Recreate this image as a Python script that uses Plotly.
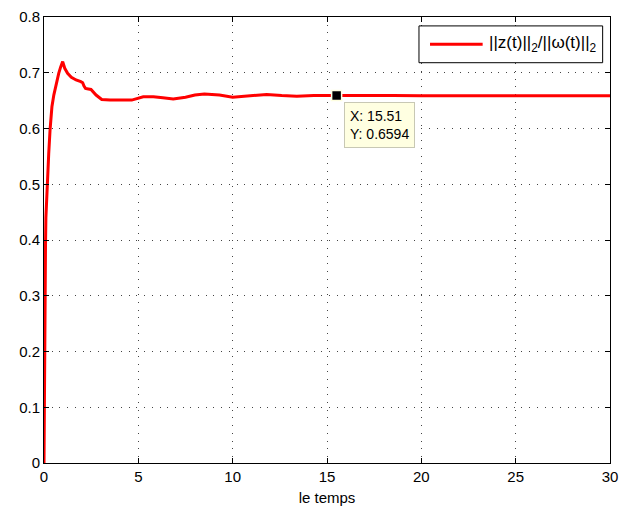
import plotly.graph_objects as go

# Ratio ||z(t)||_2 / ||w(t)||_2 over time
t = [0, 0.01, 0.02, 0.04, 0.06, 0.08, 0.1, 0.14, 0.19, 0.25, 0.32, 0.42, 0.52, 0.64, 0.78, 0.88, 0.99,
     1.1, 1.25, 1.45, 1.7, 1.95, 2.05, 2.12, 2.2, 2.35, 2.49, 2.76, 3.06, 3.5, 4.0, 4.65,
     5.26, 5.8, 6.3, 6.85, 7.5, 8.0, 8.5, 9.3, 10.0, 10.8, 11.8, 12.6, 13.4, 14.3,
     15.51, 16.5, 17.5, 18.5, 20.0, 22.0, 25.0, 27.5, 30.0]
ratio = [0, 0.08, 0.15, 0.25, 0.33, 0.39, 0.44, 0.48, 0.508, 0.555, 0.597, 0.639, 0.66, 0.681, 0.699, 0.71, 0.72,
         0.708, 0.699, 0.692, 0.687, 0.684, 0.682, 0.676, 0.672, 0.671, 0.670, 0.660, 0.652, 0.651, 0.651, 0.651,
         0.657, 0.657, 0.655, 0.653, 0.656, 0.660, 0.662, 0.660, 0.656, 0.658, 0.661, 0.659, 0.658, 0.659,
         0.6594, 0.659, 0.6592, 0.6594, 0.6586, 0.6588, 0.6589, 0.6587, 0.6588]

tip_x, tip_y = 15.51, 0.6594

x_ticks = [0, 5, 10, 15, 20, 25, 30]
y_ticks = [0, 0.1, 0.2, 0.3, 0.4, 0.5, 0.6, 0.7, 0.8]

FONT = "Liberation Sans, Arial, sans-serif"
LINE_COLOR = "#FF0000"
legend_label = "||z(t)||<sub>2</sub>/||\u03c9(t)||<sub>2</sub>"

fig = go.Figure()
fig.add_trace(go.Scatter(
    x=t, y=ratio, mode="lines",
    line=dict(color=LINE_COLOR, width=3),
    name=legend_label, showlegend=False,
))
fig.add_trace(go.Scatter(
    x=[tip_x], y=[tip_y], mode="markers",
    marker=dict(symbol="square", size=10, color="black",
                line=dict(color="#FFFFE1", width=1.5)),
    showlegend=False, hoverinfo="skip",
))
# data tip box
fig.add_annotation(
    x=tip_x, y=tip_y, xref="x", yref="y",
    text=f"X: {tip_x:g}<br>Y: {tip_y:g}", showarrow=False, align="left",
    xanchor="left", yanchor="top", xshift=7, yshift=-7,
    bgcolor="#FFFFE1", bordercolor="#C8C8B4", borderwidth=1, borderpad=5,
    font=dict(family=FONT, size=14, color="black"),
)

# legend box drawn in the upper right corner of the axes
fig.add_shape(type="rect", xref="paper", yref="paper",
              x0=0.6625, x1=0.987, y0=0.8975, y1=0.980,
              line=dict(color="black", width=1), fillcolor="white", layer="above")
fig.add_shape(type="line", xref="paper", yref="paper",
              x0=0.682, x1=0.775, y0=0.939, y1=0.939,
              line=dict(color=LINE_COLOR, width=3), layer="above")
fig.add_annotation(
    x=0.7827, y=0.939, xref="paper", yref="paper",
    text=legend_label, showarrow=False,
    xanchor="left", yanchor="middle",
    font=dict(family=FONT, size=17, color="black"),
)

axis_common = dict(
    showline=True, linecolor="black", linewidth=1, mirror="ticks",
    ticks="inside", ticklen=5, tickcolor="black",
    showgrid=True, gridcolor="#444444", griddash="1px,6.7px", gridwidth=1,
    zeroline=False, automargin=False,
    tickfont=dict(family=FONT, size=15, color="black"),
)

fig.update_xaxes(range=[0, 30], tickvals=x_ticks, ticktext=[str(v) for v in x_ticks],
                 title=dict(text="le temps", standoff=8,
                            font=dict(family=FONT, size=15, color="black")),
                 **axis_common)
fig.update_yaxes(range=[0, 0.8], tickvals=y_ticks, ticktext=[f"{v:g}" for v in y_ticks],
                 **axis_common)

fig.update_layout(
    width=619, height=509,
    margin=dict(l=44, r=9, t=17, b=46),
    paper_bgcolor="white", plot_bgcolor="white",
    font=dict(family=FONT, size=15, color="black"),
    showlegend=False,
)

fig.write_html("out.html")
